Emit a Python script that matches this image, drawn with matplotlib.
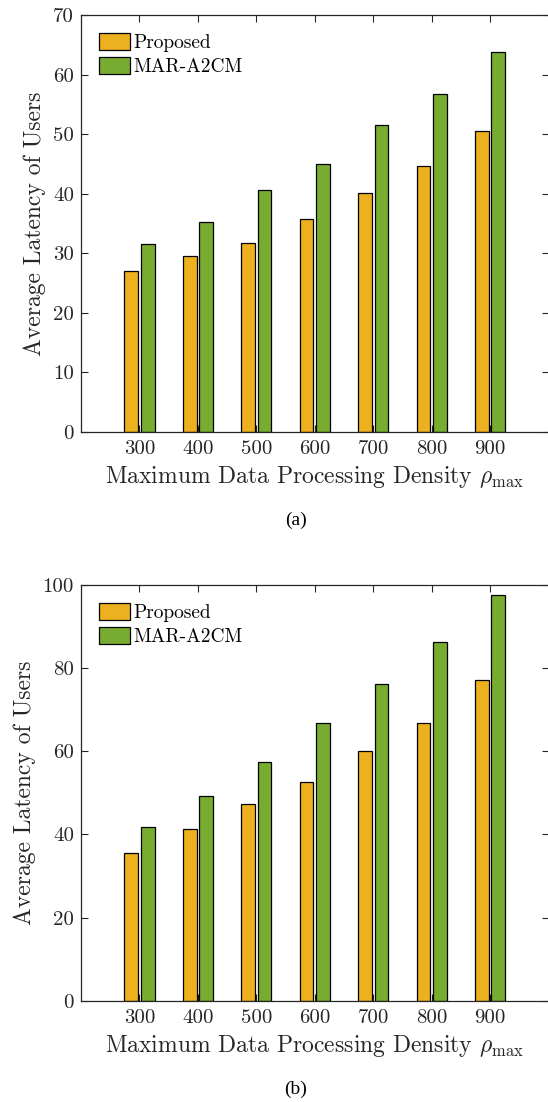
import matplotlib
matplotlib.use("Agg")
import matplotlib.pyplot as plt
import numpy as np

densities = [300, 400, 500, 600, 700, 800, 900]
tick_labels = ["300", "400", "500", "600", "700", "800", "900"]
series_names = ["Proposed", "MAR-A2CM"]

proposed_a = [27.1, 29.6, 31.7, 35.8, 40.2, 44.7, 50.6]
mar_a = [31.6, 35.3, 40.6, 45.0, 51.6, 56.7, 63.8]

proposed_b = [35.6, 41.2, 47.2, 52.7, 60.0, 66.9, 77.2]
mar_b = [41.7, 49.2, 57.4, 66.7, 76.2, 86.3, 97.5]

yticks_a = [0, 10, 20, 30, 40, 50, 60, 70]
yticks_b = [0, 20, 40, 60, 80, 100]

plt.rcParams["font.family"] = ["cmr10", "DejaVu Serif"]
plt.rcParams["mathtext.fontset"] = "cm"
plt.rcParams["axes.formatter.use_mathtext"] = True

C_OR = "#EDB120"
C_GR = "#77AC30"
DARK = "#262626"

W, H = 548, 1102
fig = plt.figure(figsize=(W / 100, H / 100), dpi=100)

def make_panel(rect, prop, mar, yticks, ymax, caption, cap_y):
    ax = fig.add_axes(rect)
    x = np.array(densities, dtype=float)
    bw = 23.5
    off = 14
    ax.bar(x - off, prop, width=bw, color=C_OR, edgecolor="black", linewidth=0.9,
           label=series_names[0], zorder=2)
    ax.bar(x + off, mar, width=bw, color=C_GR, edgecolor="black", linewidth=0.9,
           label=series_names[1], zorder=2)
    ax.set_xlim(200, 1000)
    ax.set_ylim(0, ymax)
    ax.set_xticks(densities)
    ax.set_xticklabels(tick_labels)
    ax.set_yticks(yticks)
    ax.set_yticklabels([str(v) for v in yticks])
    ax.tick_params(direction="in", top=True, right=True, length=5, width=0.8,
                   colors=DARK, labelsize=15, pad=6)
    ax.tick_params(axis="y", pad=5)
    for s in ax.spines.values():
        s.set_color(DARK)
        s.set_linewidth(0.9)
        s.set_zorder(3)
    ax.set_xlabel(r"Maximum Data Processing Density $\rho_{\max}$", fontsize=17,
                  color=DARK, labelpad=4)
    ax.set_ylabel("Average Latency of Users", fontsize=17, color=DARK, labelpad=5)
    ax.legend(loc="upper left", bbox_to_anchor=(0.038, 0.957), frameon=False,
              fontsize=14, handlelength=1.6, handleheight=0.98,
              handletextpad=0.2, labelspacing=0.25, borderpad=0, borderaxespad=0)
    fig.text(0.54, cap_y, caption, ha="center", va="center",
             fontsize=14, family=["Liberation Serif"], color="black")
    return ax

left = 81 / W
width = (548.6 - 81) / W
ax_a = make_panel([left, (H - 432) / H, width, (432 - 15) / H],
                  proposed_a, mar_a, yticks_a, 70, "(a)", (H - 520) / H)
ax_b = make_panel([left, (H - 1000.7) / H, width, (1000.7 - 585) / H],
                  proposed_b, mar_b, yticks_b, 100, "(b)", (H - 1089) / H)

fig.savefig("out.png", dpi=100)
